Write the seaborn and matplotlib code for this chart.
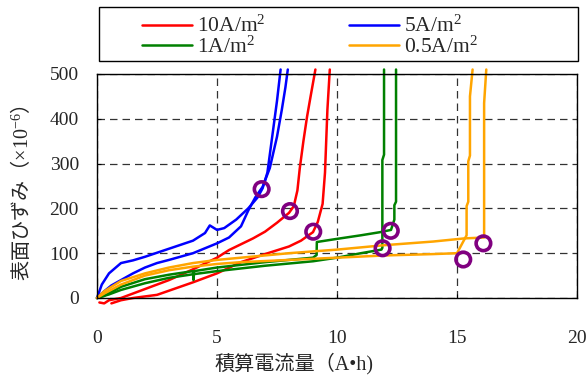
import matplotlib
matplotlib.use("Agg")
import matplotlib.pyplot as plt
import pandas as pd
import seaborn as sns
from matplotlib.lines import Line2D
from matplotlib.patches import Rectangle

# 10A/m2 (red), two specimens
red_a_x = [0.1, 0.3, 0.5, 1, 2, 3, 4, 5, 5.5, 6, 6.5, 7, 7.5, 8, 8.2, 8.35, 8.45, 8.6, 8.75, 8.9, 9.1]
red_a_y = [-10, -12, -5, 0, 20, 40, 64, 90, 107, 120, 133, 148, 168, 190, 205, 240, 290, 350, 404, 450, 510]
red_b_x = [0.6, 1, 1.5, 2.5, 4, 5, 6, 7, 8, 8.5, 9.0, 9.2, 9.4, 9.5, 9.55, 9.6, 9.7]
red_b_y = [-12, -5, 0, 7, 35, 55, 80, 98, 115, 128, 147, 170, 210, 280, 350, 420, 510]

# 5A/m2 (blue)
blue_a_x = [0, 0.2, 0.5, 1, 1.5, 2, 3, 4, 4.5, 4.7, 5, 5.3, 5.8, 6.3, 6.7, 6.9, 7.1, 7.2, 7.35, 7.5, 7.65]
blue_a_y = [0, 30, 55, 78, 84, 92, 110, 128, 145, 162, 152, 156, 175, 200, 225, 245, 280, 320, 380, 440, 510]
blue_b_x = [0, 0.3, 0.6, 1, 1.5, 2, 2.5, 3, 4, 5, 5.5, 6, 6.3, 6.6, 6.9, 7.2, 7.5, 7.7, 7.85, 7.95]
blue_b_y = [0, 15, 28, 40, 55, 68, 78, 85, 100, 122, 135, 160, 195, 225, 248, 290, 360, 420, 470, 510]

# 1A/m2 (green)
green_a_x = [0, 0.3, 1, 2, 3, 4, 4.02, 4.05, 5, 6, 7, 8, 9, 9.15, 9.16, 10, 11, 11.8, 12.25, 12.39, 12.39, 12.46, 12.46]
green_a_y = [0, 5, 25, 42, 52, 60, 40, 60, 68, 74, 80, 85, 90, 96, 125, 132, 140, 147, 152, 175, 207, 215, 510]
green_b_x = [0, 0.5, 1, 2, 3, 4, 5, 6, 7, 8, 9, 10, 11, 11.85, 11.89, 11.89, 11.96, 11.96]
green_b_y = [0, 8, 18, 33, 45, 53, 60, 66, 72, 77, 82, 90, 100, 108, 112, 308, 320, 510]

# 0.5A/m2 (orange)
orange_a_x = [0, 0.3, 1, 2, 3, 4, 5, 6, 8, 10, 12, 14, 15.0, 15.4, 15.4, 15.47, 15.47, 15.54, 15.54, 15.65]
orange_a_y = [0, 10, 30, 50, 62, 70, 76, 80, 85, 90, 95, 98, 100, 140, 205, 215, 305, 318, 450, 510]
orange_b_x = [0, 0.3, 1, 2, 3, 4, 5, 6, 8, 10, 12, 14, 15.3, 16.13, 16.13, 16.22]
orange_b_y = [0, 15, 38, 55, 68, 78, 85, 90, 100, 108, 118, 126, 133, 135, 435, 510]

# failure points (circles)
fail_x = [6.86, 8.04, 9.01, 11.9, 12.24, 15.26, 16.1]
fail_y = [243, 194, 148, 111, 150, 86, 122]

labels = ["10A/m$^2$", "5A/m$^2$", "1A/m$^2$", "0.5A/m$^2$"]
colors = dict(zip(labels, ["#ff0000", "#0000ff", "#008000", "#ffa500"]))

runs = [
    (labels[0], "a", red_a_x, red_a_y), (labels[0], "b", red_b_x, red_b_y),
    (labels[1], "a", blue_a_x, blue_a_y), (labels[1], "b", blue_b_x, blue_b_y),
    (labels[2], "a", green_a_x, green_a_y), (labels[2], "b", green_b_x, green_b_y),
    (labels[3], "a", orange_a_x, orange_a_y), (labels[3], "b", orange_b_x, orange_b_y),
]
df = pd.concat(
    pd.DataFrame({"x": xs, "y": ys, "series": s, "run": s + r})
    for s, r, xs, ys in runs
)

sns.set_style("ticks")
plt.rcParams["font.family"] = ["Liberation Serif", "Noto Sans CJK JP", "DejaVu Serif"]
plt.rcParams["mathtext.fontset"] = "custom"
plt.rcParams["mathtext.rm"] = "Liberation Serif"
plt.rcParams["mathtext.it"] = "Liberation Serif:italic"
plt.rcParams["font.size"] = 14

fig = plt.figure(figsize=(5.87, 3.80), dpi=100)
ax = fig.add_axes([97 / 587, 82 / 380, 480 / 587, 224 / 380])

sns.lineplot(df, x="x", y="y", hue="series", units="run", estimator=None, sort=False,
             palette=colors, hue_order=labels, lw=1.8, legend=False, ax=ax)
for ln in ax.lines:
    ln.set_clip_on(False)

sns.scatterplot(x=fail_x, y=fail_y, marker="o", s=110, facecolor="none",
                edgecolor="#800080", linewidth=2.6, ax=ax, zorder=5, clip_on=False)

ax.set_xlim(0, 20)
ax.set_ylim(0, 500)
ax.set_xticks([0, 5, 10, 15, 20])
ax.set_yticks([0, 100, 200, 300, 400, 500])
ax.tick_params(axis="both", direction="in", length=3, color="black", labelsize=14)
ax.tick_params(axis="x", pad=23)
ax.tick_params(axis="y", pad=13)
for sp in ax.spines.values():
    sp.set_color("black")
    sp.set_linewidth(1.0)
    sp.set_visible(True)
ax.grid(True, linestyle=(0, (6, 4)), color="#333333", linewidth=0.9)

ax.set_xlabel("積算電流量（A•h)", fontsize=14.5)
ax.xaxis.set_label_coords(0.41, -0.295)
ax.xaxis.label.set_va("center")
ax.set_ylabel("表面ひずみ（$\\times10^{-6}$）", fontsize=14.5, family="Noto Sans CJK JP")
ax.yaxis.set_label_coords(-0.158, 0.469)
ax.yaxis.label.set_va("center")

leg_order = [labels[0], labels[2], labels[1], labels[3]]
handles = [Line2D([0], [0], color=colors[l], lw=1.8) for l in leg_order]
leg = fig.legend(handles, leg_order, ncol=2, loc="upper left",
                 bbox_to_anchor=(142 / 587, 1 - 16 / 380), frameon=False, fontsize=15.5,
                 handlelength=2.3, handletextpad=0.25, labelspacing=-0.05, borderpad=0.0,
                 borderaxespad=0.0, columnspacing=3.9)
fig.patches.append(Rectangle((99 / 587, 1 - 61 / 380), 479 / 587, 54 / 380,
                             transform=fig.transFigure, fill=False, edgecolor="black", lw=1.0))

fig.savefig("out.png", dpi=100)
